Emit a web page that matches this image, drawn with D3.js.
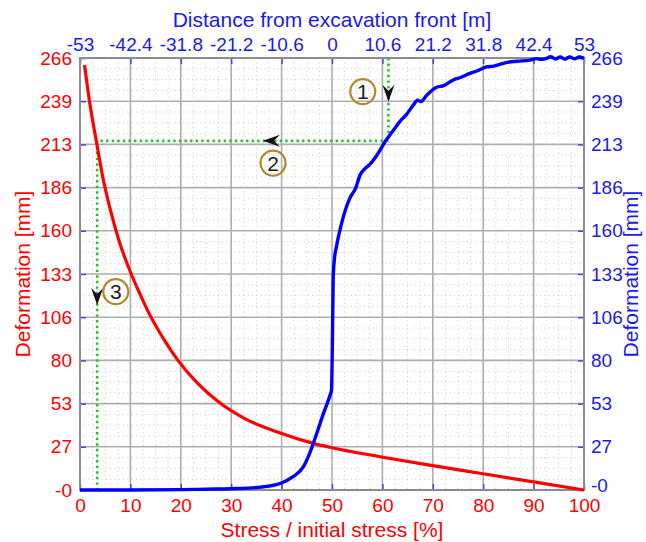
<!DOCTYPE html>
<html><head><meta charset="utf-8">
<script src="https://cdn.jsdelivr.net/npm/d3@7"></script>
<style>
html,body{margin:0;padding:0;background:#fff;}
svg{display:block;font-family:"Liberation Sans",Arial,Helvetica,sans-serif;}
</style></head>
<body>
<svg id="chart" width="646" height="542"></svg>
<script>
// ---------- data ----------
const stressTicks = [0,10,20,30,40,50,60,70,80,90,100];
const distTicks = [-53,-42.4,-31.8,-21.2,-10.6,0,10.6,21.2,31.8,42.4,53];
const distLabels = ["-53","-42.4","-31.8","-21.2","-10.6","0","10.6","21.2","31.8","42.4","53"];
const defTicks = [0,26.6,53.2,79.8,106.4,133,159.6,186.2,212.8,239.4,266];
const defLabels = ["-0","27","53","80","106","133","160","186","213","239","266"];

// red: ground reaction curve (stress % -> deformation mm)
const redStress = [0.9,2.0,3.2,4.6,5.9,7.9,9.9,12,13.5,16.8,19.4,23.4,27.4,32.7,39.3,46.3,50,59.5,70,80,90,100];
const redDef    = [261.7,237,215.5,191.5,174,152,135,120,110,92,80,65.5,54.5,44,35.5,28.7,26,20.5,15,10,5,0];

// blue: longitudinal deformation profile (distance m -> deformation mm)
const blueDist = [-53,-42,-31.8,-26.5,-21.2,-15.9,-13,-10.9,-8.2,-6.0,-4.7,-3.2,-1.8,-0.4,-0.1,0.1,0.25,0.5,0.95,2.0,3.8,5.0,5.9,7.0,7.95,9.4,11.4,12.8,14.3,15.6,17.1,18.0,18.7,19.9,22.0,23.5,25.5,27.0,29.0,30.5,32.5,34.0,36.8,39.0,41.7,43.0,44.0,45.0,46.0,47.0,48.0,49.0,50.0,51.0,52.0,53.0];
const blueDef  = [0,0,0.2,0.5,0.8,1.5,2.5,4,8.2,14.4,22.6,34.9,47.2,58.5,61.6,95,130,142,150,164,180,186,194,198,200.5,206,215.5,221,227,231,237,240,239.2,243,248,249,252.5,254,256.5,258,260.5,261,263.3,264,264.7,265.6,265.2,265.6,266.8,265.4,266.6,265.3,266.7,265.5,266.6,265.8];

// guide lines & annotations (stress % / deformation mm)
const guideStress = [61.2, 3.4];
const guideDef = 215;
const arrowPts = [[61.2,239.1,"down"],[36.3,215,"left"],[3.4,113.9,"down"]];
const markLabels = ["1","2","3"];
const markStress = [56.1,38.3,7.1];
const markDef = [245.3,201.3,122.1];

// ---------- drawing ----------
const svg = d3.select("#chart");
const L=80,R=584,T=58,B=490;
const RED="#ff0000", BLUE="#0000ff", BLUET="#1a1aee";
const x = d3.scaleLinear().domain([0,100]).range([L,R]);
const xTop = d3.scaleLinear().domain([-53,53]).range([L,R]);
const y = d3.scaleLinear().domain([0,266]).range([B,T]);

// minor grid
const g = svg.append("g");
const minorX = d3.range(0,100.01,2.5).filter(v=>v%10!==0);
const minorY = d3.range(0,266.01,6.65).filter((v,i)=>i%4!==0);
g.selectAll(".mx").data(minorX).join("line")
  .attr("x1",d=>x(d)).attr("x2",d=>x(d)).attr("y1",T).attr("y2",B)
  .attr("stroke","#c4c4c4").attr("stroke-width",1).attr("stroke-dasharray","1,3.3");
g.selectAll(".my").data(minorY).join("line")
  .attr("y1",d=>y(d)).attr("y2",d=>y(d)).attr("x1",L).attr("x2",R)
  .attr("stroke","#c4c4c4").attr("stroke-width",1).attr("stroke-dasharray","1,3.3");
// major grid
g.selectAll(".Mx").data(stressTicks).join("line")
  .attr("x1",d=>x(d)).attr("x2",d=>x(d)).attr("y1",T).attr("y2",B)
  .attr("stroke","#aeaeae").attr("stroke-width",1.6);
g.selectAll(".My").data(defTicks).join("line")
  .attr("y1",d=>y(d)).attr("y2",d=>y(d)).attr("x1",L).attr("x2",R)
  .attr("stroke","#aeaeae").attr("stroke-width",1.6);

// axes
function styleAxis(sel, color){
  sel.select(".domain").remove();
  sel.selectAll(".tick line").attr("stroke","#4848d8").attr("stroke-width",1.5);
  sel.selectAll(".tick text").attr("fill",color).style("font-size","19px")
     .style("font-family","'Liberation Sans',Arial,sans-serif");
}
svg.append("g").attr("transform",`translate(0,${B})`)
  .call(d3.axisBottom(x).tickValues(stressTicks).tickSizeInner(-6).tickSizeOuter(0).tickPadding(9).tickFormat(d3.format("d")))
  .call(s=>styleAxis(s,RED));
svg.append("g").attr("transform",`translate(0,${T})`)
  .call(d3.axisTop(xTop).tickValues(distTicks).tickSizeInner(-6).tickSizeOuter(0).tickPadding(7).tickFormat((d,i)=>distLabels[i]))
  .call(s=>styleAxis(s,BLUET));
svg.append("g").attr("transform",`translate(${L},0)`)
  .call(d3.axisLeft(y).tickValues(defTicks).tickSizeInner(-6).tickSizeOuter(0).tickPadding(8).tickFormat((d,i)=>defLabels[i]))
  .call(s=>styleAxis(s,RED));
const rAx = svg.append("g").attr("transform",`translate(${R},0)`)
  .call(d3.axisRight(y).tickValues(defTicks).tickSizeInner(-6).tickSizeOuter(0).tickPadding(7).tickFormat((d,i)=>defLabels[i]))
  .call(s=>styleAxis(s,BLUET));
rAx.selectAll(".tick text").filter((d,i)=>i===0).attr("dy","0.1em");

// border
svg.append("rect").attr("x",L).attr("y",T).attr("width",R-L).attr("height",B-T)
  .attr("fill","none").attr("stroke","#8c8c8c").attr("stroke-width",2);

// guides
const GREEN="#22c422";
const gd = [
  [[guideStress[0],266],[guideStress[0],guideDef]],
  [[guideStress[0],guideDef],[guideStress[1],guideDef]],
  [[guideStress[1],guideDef],[guideStress[1],0]]
];
svg.selectAll(".guide").data(gd).join("path")
  .attr("d",d=>d3.line().x(p=>x(p[0])).y(p=>y(p[1]))(d))
  .attr("fill","none").attr("stroke",GREEN).attr("stroke-width",2.6).attr("stroke-dasharray","2.4,3.2");

// curves
svg.append("path")
  .attr("d",d3.line().x((d,i)=>x(redStress[i])).y(d=>y(d)).curve(d3.curveMonotoneX)(redDef))
  .attr("fill","none").attr("stroke",RED).attr("stroke-width",3.2);
svg.append("path")
  .attr("d",d3.line().x((d,i)=>xTop(blueDist[i])).y(d=>y(d)).curve(d3.curveMonotoneX)(blueDef))
  .attr("fill","none").attr("stroke",BLUE).attr("stroke-width",3.4).attr("stroke-linejoin","round");

// arrows
svg.selectAll(".arrow").data(arrowPts).join("path")
  .attr("d","M0,0 L-6,-17 L0,-11 L6,-17 Z")
  .attr("transform",d=>`translate(${x(d[0])},${y(d[1])}) rotate(${d[2]==="left"?90:0})`)
  .attr("fill","#111");

// circled markers
const mk = svg.selectAll(".mk").data(markLabels).join("g")
  .attr("transform",(d,i)=>`translate(${x(markStress[i])},${y(markDef[i])})`);
mk.append("circle").attr("r",12.5).attr("fill","none").attr("stroke","#b08a2a").attr("stroke-width",2.2);
mk.append("text").text(d=>d).attr("text-anchor","middle").attr("dy","0.36em")
  .style("font-size","21px").attr("fill","#222");

// titles
svg.append("text").text("Distance from excavation front [m]")
  .attr("x",(L+R)/2).attr("y",27).attr("text-anchor","middle").attr("fill",BLUET).style("font-size","21px");
svg.append("text").text("Stress / initial stress [%]")
  .attr("x",(L+R)/2).attr("y",537).attr("text-anchor","middle").attr("fill",RED).style("font-size","21px");
svg.append("text").text("Deformation [mm]")
  .attr("transform",`translate(30,${(T+B)/2}) rotate(-90)`).attr("text-anchor","middle").attr("fill",RED).style("font-size","21px");
svg.append("text").text("Deformation [mm]")
  .attr("transform",`translate(638,${(T+B)/2}) rotate(-90)`).attr("text-anchor","middle").attr("fill",BLUET).style("font-size","21px");
</script>
</body></html>
